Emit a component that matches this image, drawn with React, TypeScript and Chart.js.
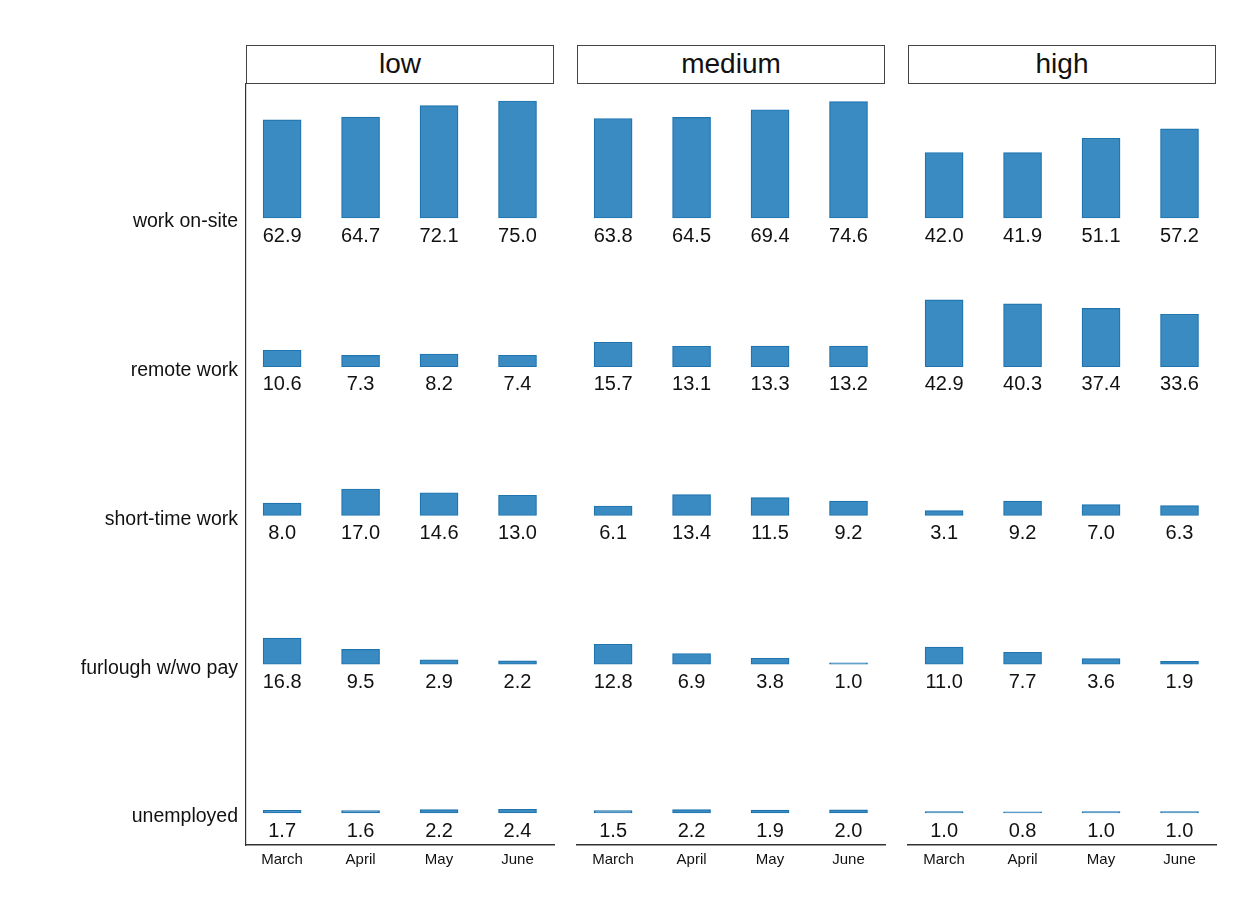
import { useEffect, useRef } from "react"
import { Chart, registerables } from "chart.js"

Chart.register(...registerables)

const MONTHS = ["March", "April", "May", "June"]
const STATUSES = ["work on-site", "remote work", "short-time work", "furlough w/wo pay", "unemployed"]
const GROUPS = ["low", "medium", "high"]

// rows follow STATUSES, columns follow MONTHS
const LOW_SHARES = [
  [62.9, 64.7, 72.1, 75.0],
  [10.6, 7.3, 8.2, 7.4],
  [8.0, 17.0, 14.6, 13.0],
  [16.8, 9.5, 2.9, 2.2],
  [1.7, 1.6, 2.2, 2.4],
]
const MEDIUM_SHARES = [
  [63.8, 64.5, 69.4, 74.6],
  [15.7, 13.1, 13.3, 13.2],
  [6.1, 13.4, 11.5, 9.2],
  [12.8, 6.9, 3.8, 1.0],
  [1.5, 2.2, 1.9, 2.0],
]
const HIGH_SHARES = [
  [42.0, 41.9, 51.1, 57.2],
  [42.9, 40.3, 37.4, 33.6],
  [3.1, 9.2, 7.0, 6.3],
  [11.0, 7.7, 3.6, 1.9],
  [1.0, 0.8, 1.0, 1.0],
]

const ROW_STEP = 95.35
const BASE_OFFSET = 20.5
const Y_MAX = 487.8
const LABEL_SHIFT = 2.6
const FONT = "'Liberation Sans', Arial, Helvetica, sans-serif"
const BAR_FILL = "#3a8bc2"
const BAR_EDGE = "#1f73ae"

const rowBase = (r: number) => BASE_OFFSET + (STATUSES.length - 1 - r) * ROW_STEP

const valueLabels = {
  id: "valueLabels",
  afterDatasetsDraw(chart: any) {
    const { ctx } = chart
    ctx.save()
    ctx.font = `20px ${FONT}`
    ctx.fillStyle = "#111"
    ctx.textAlign = "center"
    ctx.textBaseline = "middle"
    chart.data.datasets.forEach((ds: any, i: number) => {
      const meta = chart.getDatasetMeta(i)
      meta.data.forEach((el: any, j: number) => {
        const v = ds.data[j].v
        ctx.fillText(v.toFixed(1), el.x, el.base + 18)
      })
    })
    ctx.restore()
  },
}

function Panel({ values, showAxis }: { values: number[][]; showAxis: boolean }) {
  const canvasRef = useRef<HTMLCanvasElement>(null)

  useEffect(() => {
    const ctx = canvasRef.current?.getContext("2d")
    if (!ctx) return

    const chart = new Chart(ctx, {
      type: "bar",
      data: {
        datasets: STATUSES.map((s, r) => ({
          label: s,
          data: values[r].map((v, m) => ({ x: m, y: [rowBase(r), rowBase(r) + v], v })),
          backgroundColor: BAR_FILL,
          borderColor: BAR_EDGE,
          borderWidth: 1.2,
          borderSkipped: false,
          barThickness: 38,
          grouped: false,
        })) as any,
      },
      options: {
        animation: false,
        responsive: true,
        maintainAspectRatio: false,
        layout: { padding: { top: 4, right: 6, left: showAxis ? 0 : 6, bottom: 0 } },
        plugins: { legend: { display: false }, tooltip: { enabled: false } },
        scales: {
          x: {
            type: "linear",
            offset: false,
            min: -0.46,
            max: 3.465,
            grid: { display: false },
            border: { display: true, color: "#333", width: 1.5 },
            afterBuildTicks: (scale: any) => {
              scale.ticks = MONTHS.map((_, i) => ({ value: i }))
            },
            afterFit: (scale: any) => {
              scale.height = 35
              scale.paddingLeft = 0
              scale.paddingRight = 0
            },
            ticks: {
              padding: -2,
              maxRotation: 0,
              autoSkip: false,
              color: "#111",
              font: { family: FONT, size: 15 },
              callback: (v: any) => MONTHS[v],
            },
          },
          y: {
            display: showAxis,
            min: 0,
            max: Y_MAX,
            grid: { display: false },
            border: { display: true, color: "#333", width: 1.2 },
            afterBuildTicks: (scale: any) => {
              scale.ticks = STATUSES.map((_, r) => ({ value: rowBase(r) - LABEL_SHIFT }))
            },
            afterFit: (scale: any) => {
              if (showAxis) scale.width = 246
              scale.paddingTop = 0
              scale.paddingBottom = 0
            },
            ticks: {
              padding: 0,
              color: "#111",
              font: { family: FONT, size: 19.5 },
              callback: (_v: any, i: number) => STATUSES[i],
            },
          },
        },
      } as any,
      plugins: [valueLabels],
    })

    return () => {
      chart.destroy()
    }
  }, [values, showAxis])

  return <canvas ref={canvasRef}></canvas>
}

const PANEL_VALUES = [LOW_SHARES, MEDIUM_SHARES, HIGH_SHARES]
const PANEL_LEFT = [246, 577, 908]

export default function App() {
  return (
    <div
      style={{
        position: "absolute",
        left: 0,
        top: 0,
        width: 1260,
        height: 916,
        background: "#fff",
        fontFamily: FONT,
      }}
    >
      {GROUPS.map((g, i) => (
        <div key={g}>
          <div
            style={{
              position: "absolute",
              left: PANEL_LEFT[i],
              top: 45,
              width: 308,
              height: 39,
              boxSizing: "border-box",
              border: "1.5px solid #444",
              textAlign: "center",
              fontSize: 28,
              lineHeight: "36px",
              color: "#111",
            }}
          >
            {g}
          </div>
          <div
            style={{
              position: "absolute",
              left: i === 0 ? 0 : PANEL_LEFT[i] - 6,
              top: 80,
              width: i === 0 ? 560 : 320,
              height: 800,
            }}
          >
            <Panel values={PANEL_VALUES[i]} showAxis={i === 0} />
          </div>
        </div>
      ))}
    </div>
  )
}
